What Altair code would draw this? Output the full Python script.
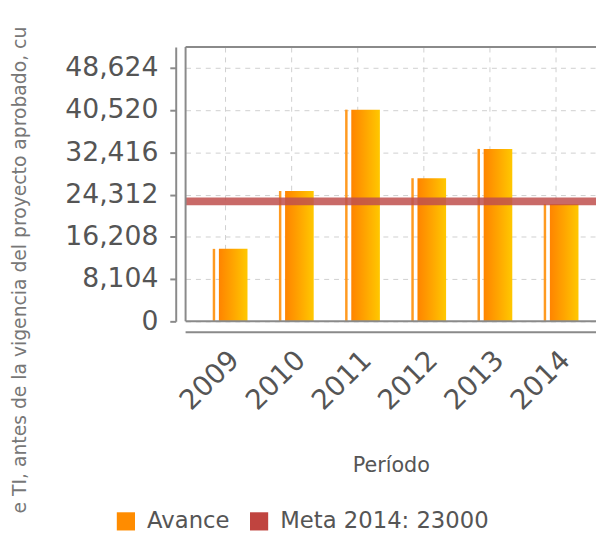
import altair as alt
import pandas as pd

years = ["2009", "2010", "2011", "2012", "2013", "2014"]
avance = [13900, 25000, 40600, 27450, 33070, 22500]
meta = 23000
series_names = ["Avance", "Meta 2014: 23000"]
series_colors = ["#FF8C00", "#C0443F"]
y_ticks = [0, 8104, 16208, 24312, 32416, 40520, 48624]
y_title = "e TI, antes de la vigencia del proyecto aprobado, cu"
x_title = "Período"

df = pd.DataFrame({"year": years, "avance": avance})
meta_df = pd.DataFrame({"meta": [meta]})
legend_df = pd.DataFrame({"serie": series_names})
title_df = pd.DataFrame({"t": [y_title]})

FONT = "DejaVu Sans"
TXT = "#555555"
AX = "#8a8a8a"
W, H = 416, 278

x_enc = alt.X(
    "year:N",
    sort=years,
    scale=alt.Scale(paddingOuter=0.1, paddingInner=0),
    axis=alt.Axis(
        title=x_title, labelAngle=-45, labelFontSize=28, labelFont=FONT,
        labelColor=TXT, ticks=False, offset=11, domain=False,
        labelPadding=14, titleFontSize=21,
        titleFont=FONT, titleColor=TXT, titleFontWeight="normal", titlePadding=40,
        grid=True, gridDash=[5, 5], gridColor="#cfcfcf", bandPosition=0.5,
    ),
)
y_enc = alt.Y(
    "avance:Q",
    scale=alt.Scale(domain=[0, 52600], nice=False, zero=True),
    axis=alt.Axis(
        title=None, values=y_ticks, format=",d", offset=10,
        labelFontSize=27, labelFont=FONT, labelColor=TXT,
        tickColor=AX, tickSize=6, tickWidth=2, domainColor=AX,
        domainWidth=2, labelPadding=12, grid=True, gridDash=[5, 5],
        gridColor="#cfcfcf",
    ),
)

grad = alt.Gradient(
    gradient="linear",
    stops=[alt.GradientStop(color="#FF8400", offset=0),
           alt.GradientStop(color="#FFA500", offset=0.5),
           alt.GradientStop(color="#FFC800", offset=1)],
    x1=0, x2=1, y1=0, y2=0,
)

base = alt.Chart(df)
bars = base.mark_bar(width=29, xOffset=8, color=grad).encode(x=x_enc, y=y_enc)
stripe = base.mark_bar(width=2.5, xOffset=-11.5, color="#FF9A20").encode(x=x_enc, y=y_enc)
rule = alt.Chart(meta_df).mark_rule(color="#C0504D", strokeWidth=8, opacity=0.85).encode(
    y=alt.Y("meta:Q"))

frame_top = alt.Chart(meta_df).mark_rule(color=AX, strokeWidth=2).encode(
    x=alt.value(0), x2=alt.value(W), y=alt.value(0))
frame_left = alt.Chart(meta_df).mark_rule(color=AX, strokeWidth=2).encode(
    x=alt.value(0), y=alt.value(0), y2=alt.value(H))
frame_bottom = alt.Chart(meta_df).mark_rule(color=AX, strokeWidth=2).encode(
    x=alt.value(0), x2=alt.value(W), y=alt.value(H))
xaxis_line = alt.Chart(meta_df).mark_rule(color=AX, strokeWidth=2).encode(
    x=alt.value(0), x2=alt.value(W), y=alt.value(H + 11))

legend_layer = alt.Chart(legend_df).mark_square(opacity=0, size=10).encode(
    x=alt.value(0), y=alt.value(0),
    color=alt.Color(
        "serie:N",
        scale=alt.Scale(domain=series_names, range=series_colors),
        legend=alt.Legend(
            orient="none", legendX=-72, legendY=469, direction="horizontal",
            title=None, symbolType="square", symbolSize=340, symbolOpacity=1,
            symbolStrokeWidth=0, labelFontSize=23, labelFont=FONT,
            labelColor=TXT, labelOffset=10, columnPadding=18, labelLimit=400,
        ),
    ),
)

ytitle = alt.Chart(title_df).mark_text(
    angle=270, fontSize=19, font=FONT, color="#777777", align="center", baseline="middle"
).encode(text="t:N", x=alt.value(-168), y=alt.value(226))

chart = alt.layer(
    bars, stripe, rule, frame_top, frame_left, frame_bottom, xaxis_line,
    legend_layer, ytitle,
).properties(
    width=W, height=H, autosize="none",
    padding={"left": 180, "top": 36, "right": 0, "bottom": 217},
).configure_view(strokeWidth=0)

chart.save("out.html", embed_options={"renderer": "svg", "actions": False})
